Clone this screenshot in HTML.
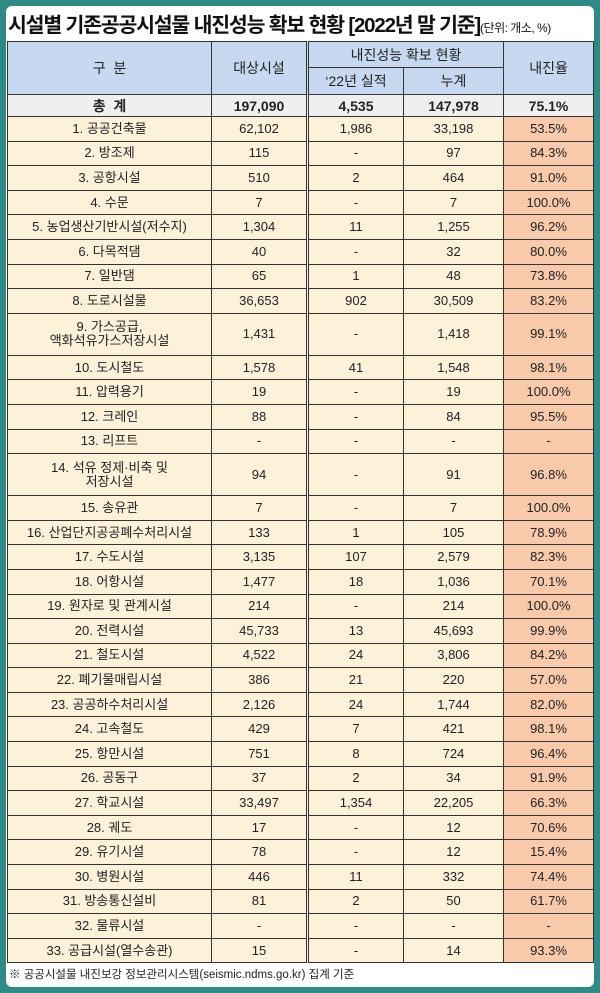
<!DOCTYPE html>
<html><head><meta charset="utf-8"><style>
html,body{margin:0;padding:0;}
body{width:600px;height:993px;background:#2f8985;font-family:"Liberation Sans","Noto Sans CJK KR",sans-serif;position:relative;overflow:hidden;}
.panel{position:absolute;left:6px;top:6px;width:588px;height:981px;background:#fff;border-radius:6px;}
.title{position:absolute;left:8px;top:8px;font-size:20.5px;font-weight:bold;letter-spacing:-1.2px;white-space:nowrap;color:#111;}
.title small{font-size:12px;font-weight:normal;letter-spacing:-0.5px;}
table{position:absolute;left:7px;top:41px;border-collapse:collapse;table-layout:fixed;width:586px;font-size:13px;color:#222;}
td{border:1px solid #333;text-align:center;padding:0;line-height:14px;}
.hd td{background:#c6d9f0;font-size:14px;}
.tot td{background:#efefef;font-weight:bold;height:21px;font-size:14px;}
.r td{background:#fdf1da;height:23.6px;}
.r.t td{height:41px;}
.r td.rate{background:#f8c9ab;}
td.c2{border-right:3px double #333;}
td.c3{border-right:1px dotted #777;}
.foot{position:absolute;left:9px;top:966px;font-size:11.5px;color:#222;white-space:nowrap;}
</style></head><body>
<div class="panel"></div>
<div class="title">시설별 기존공공시설물 내진성능 확보 현황 [2022년 말 기준]<small>(단위: 개소, %)</small></div>
<table>
<colgroup><col style="width:204px"><col style="width:96px"><col style="width:96px"><col style="width:100px"><col style="width:90px"></colgroup>
<tr class="hd" style="height:26px"><td rowspan="2">구 &nbsp;분</td><td rowspan="2" class="c2">대상시설</td><td colspan="2">내진성능 확보 현황</td><td rowspan="2">내진율</td></tr>
<tr class="hd" style="height:27px"><td class="c3">‘22년 실적</td><td>누계</td></tr>
<tr class="tot"><td>총 &nbsp;계</td><td class="c2">197,090</td><td class="c3">4,535</td><td>147,978</td><td>75.1%</td></tr>
<tbody id="tb"></tbody>
</table>
<div class="foot">※ 공공시설물 내진보강 정보관리시스템(seismic.ndms.go.kr) 집계 기준</div>
<script>
const names=["1. 공공건축물","2. 방조제","3. 공항시설","4. 수문","5. 농업생산기반시설(저수지)","6. 다목적댐","7. 일반댐","8. 도로시설물","9. 가스공급,<br>액화석유가스저장시설","10. 도시철도","11. 압력용기","12. 크레인","13. 리프트","14. 석유 정제·비축 및<br>저장시설","15. 송유관","16. 산업단지공공폐수처리시설","17. 수도시설","18. 어항시설","19. 원자로 및 관계시설","20. 전력시설","21. 철도시설","22. 폐기물매립시설","23. 공공하수처리시설","24. 고속철도","25. 항만시설","26. 공동구","27. 학교시설","28. 궤도","29. 유기시설","30. 병원시설","31. 방송통신설비","32. 물류시설","33. 공급시설(열수송관)"];
const targets=["62,102","115","510","7","1,304","40","65","36,653","1,431","1,578","19","88","-","94","7","133","3,135","1,477","214","45,733","4,522","386","2,126","429","751","37","33,497","17","78","446","81","-","15"];
const done2022=["1,986","-","2","-","11","-","1","902","-","41","-","-","-","-","-","1","107","18","-","13","24","21","24","7","8","2","1,354","-","-","11","2","-","-"];
const cumulative=["33,198","97","464","7","1,255","32","48","30,509","1,418","1,548","19","84","-","91","7","105","2,579","1,036","214","45,693","3,806","220","1,744","421","724","34","22,205","12","12","332","50","-","14"];
const rates=["53.5%","84.3%","91.0%","100.0%","96.2%","80.0%","73.8%","83.2%","99.1%","98.1%","100.0%","95.5%","-","96.8%","100.0%","78.9%","82.3%","70.1%","100.0%","99.9%","84.2%","57.0%","82.0%","98.1%","96.4%","91.9%","66.3%","70.6%","15.4%","74.4%","61.7%","-","93.3%"];
const tb=document.getElementById('tb');
names.forEach((n,i)=>{
  const tr=document.createElement('tr');
  tr.className='r'+(n.includes('<br>')?' t':'');
  
  
  tr.innerHTML='<td>'+n+'</td><td class="c2">'+targets[i]+'</td><td class="c3">'+done2022[i]+'</td><td>'+cumulative[i]+'</td><td class="rate">'+rates[i]+'</td>';
  tb.appendChild(tr);
});
</script>
</body></html>
